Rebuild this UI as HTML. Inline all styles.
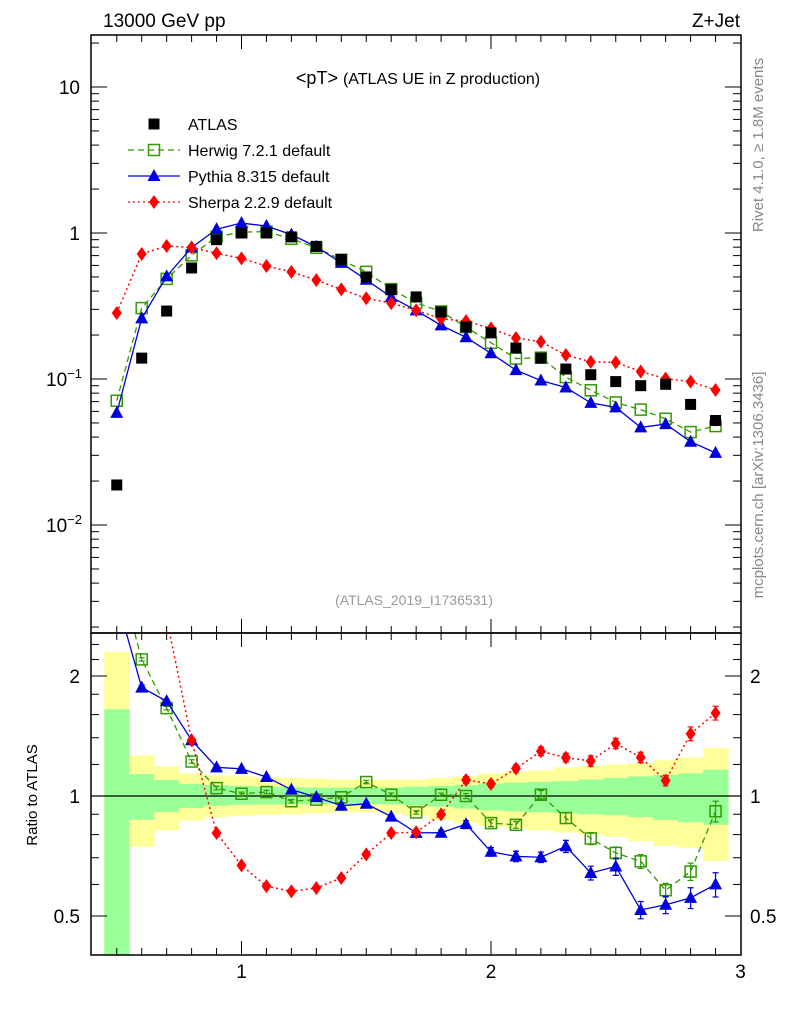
<!DOCTYPE html>
<html><head><meta charset="utf-8"><style>
body{margin:0;background:#fff}
svg{display:block;font-family:"Liberation Sans",sans-serif}
</style></head><body>
<svg id="c" width="786" height="1024" viewBox="0 0 786 1024">
<defs>
<clipPath id="cm"><rect x="91" y="35" width="650" height="598"/></clipPath>
<clipPath id="cr"><rect x="91" y="633" width="650" height="322"/></clipPath>
</defs>
<g id="bands" clip-path="url(#cr)"></g>
<g id="marks"></g>
<rect x="91" y="35" width="650" height="598" fill="none" stroke="#000" stroke-width="1.5"/>
<rect x="91" y="633" width="650" height="322" fill="none" stroke="#000" stroke-width="1.5"/>
<g id="axes"></g>
<text x="103" y="27" font-size="19">13000 GeV pp</text>
<text x="740" y="27" font-size="19" text-anchor="end">Z+Jet</text>
<text x="418" y="84" font-size="18" text-anchor="middle">&lt;pT&gt; <tspan font-size="16">(ATLAS UE in Z production)</tspan></text>
<text x="414" y="605" font-size="14" fill="#999" text-anchor="middle">(ATLAS_2019_I1736531)</text>
<text transform="translate(763,145) rotate(-90)" font-size="15" fill="#888" text-anchor="middle">Rivet 4.1.0, ≥ 1.8M events</text>
<text transform="translate(763,485) rotate(-90)" font-size="15" fill="#888" text-anchor="middle">mcplots.cern.ch [arXiv:1306.3436]</text>
<text transform="translate(37,795) rotate(-90)" font-size="15" text-anchor="middle">Ratio to ATLAS</text>
<g id="legend"></g>
</svg>
<script>
const xs=[0.5,0.6,0.7,0.8,0.9,1.0,1.1,1.2,1.3,1.4,1.5,1.6,1.7,1.8,1.9,2.0,2.1,2.2,2.3,2.4,2.5,2.6,2.7,2.8,2.9];
const atlas=[0.0188,0.139,0.292,0.576,0.90,1.00,1.00,0.94,0.81,0.66,0.50,0.41,0.365,0.288,0.227,0.207,0.163,0.139,0.117,0.107,0.096,0.090,0.092,0.067,0.052];
const herwig=[0.071,0.306,0.485,0.703,0.942,1.013,1.023,0.912,0.793,0.655,0.542,0.413,0.332,0.290,0.227,0.177,0.138,0.140,0.103,0.0837,0.0691,0.0617,0.0534,0.0433,0.0476];
const pythia=[0.0586,0.260,0.505,0.795,1.062,1.17,1.116,0.975,0.805,0.624,0.478,0.364,0.295,0.233,0.193,0.150,0.115,0.0976,0.0875,0.0686,0.0639,0.0466,0.0491,0.0372,0.0312];
const sherpa=[0.283,0.718,0.815,0.795,0.727,0.67,0.594,0.542,0.476,0.411,0.357,0.331,0.296,0.259,0.249,0.222,0.191,0.180,0.146,0.131,0.130,0.1125,0.1006,0.096,0.084];
const herwigErr=[0.01,0.01,0.01,0.01,0.01,0.01,0.01,0.01,0.01,0.01,0.01,0.01,0.01,0.01,0.015,0.02,0.02,0.025,0.03,0.035,0.035,0.04,0.04,0.05,0.06];
const pythiaErr=[0.01,0.015,0.01,0.01,0.01,0.01,0.01,0.01,0.01,0.01,0.01,0.01,0.01,0.015,0.02,0.025,0.03,0.03,0.035,0.04,0.05,0.05,0.05,0.06,0.07];
const sherpaErr=[0.01,0.01,0.01,0.01,0.01,0.01,0.01,0.01,0.01,0.01,0.01,0.01,0.01,0.01,0.02,0.02,0.02,0.025,0.025,0.03,0.03,0.03,0.03,0.04,0.04];
const yUp=[2.3,1.265,1.187,1.14,1.125,1.12,1.115,1.11,1.105,1.10,1.10,1.10,1.10,1.11,1.12,1.14,1.15,1.16,1.18,1.19,1.20,1.21,1.23,1.25,1.32];
const yDn=[0.3,0.746,0.82,0.867,0.885,0.892,0.897,0.90,0.905,0.91,0.91,0.905,0.89,0.87,0.855,0.84,0.83,0.82,0.81,0.80,0.79,0.77,0.75,0.74,0.687];
const gUp=[1.65,1.135,1.097,1.072,1.065,1.06,1.055,1.052,1.05,1.05,1.05,1.05,1.055,1.06,1.065,1.075,1.08,1.085,1.09,1.10,1.11,1.12,1.13,1.14,1.164];
const gDn=[0.3,0.872,0.912,0.933,0.945,0.95,0.952,0.953,0.955,0.955,0.955,0.953,0.948,0.94,0.93,0.92,0.915,0.91,0.905,0.9,0.895,0.885,0.87,0.86,0.847];
const xTicks=[1,2,3];
const ratioTicks=[0.5,1,2];

const NS="http://www.w3.org/2000/svg";
const X=v=>-8+249.5*v;
const Y=v=>233-146*Math.log10(v);
const R=v=>796-120*Math.log2(v);
function el(t,a,p){const e=document.createElementNS(NS,t);for(const k in a)e.setAttribute(k,a[k]);(p||document.getElementById('marks')).appendChild(e);return e;}
const axes=document.getElementById('axes');
// bands
const bands=document.getElementById('bands');
xs.forEach((x,i)=>{
  let r=el('rect',{x:X(x-0.05),y:R(yUp[i]),width:X(x+0.05)-X(x-0.05)+0.5,height:R(yDn[i])-R(yUp[i]),fill:'#ffff99'},bands);
  
  
  let g=el('rect',{x:X(x-0.05),y:R(gUp[i]),width:X(x+0.05)-X(x-0.05)+0.5,height:R(gDn[i])-R(gUp[i]),fill:'#99ff99'},bands);
  
  
});
let one=el('line',{x1:91,x2:741,y1:R(1),y2:R(1),stroke:'#000','stroke-width':1.3},bands);



function marker(type,cx,cy,color,p){
  let m;
  if(type==='sq') m=el('rect',{x:cx-5.5,y:cy-5.5,width:11,height:11,fill:'none',stroke:color,'stroke-width':1.5},p);
  else if(type==='fsq') m=el('rect',{x:cx-5.5,y:cy-5.5,width:11,height:11,fill:color},p);
  else if(type==='tri') m=el('polygon',{points:`${cx},${cy-7} ${cx-6.5},${cy+5} ${cx+6.5},${cy+5}`,fill:color},p);
  else m=el('polygon',{points:`${cx},${cy-7} ${cx-5},${cy} ${cx},${cy+7} ${cx+5},${cy}`,fill:color},p);
  return m;
}
const series=[
 {name:'herwig',vals:herwig,err:herwigErr,color:'#339900',dash:'6,4',w:1.3,m:'sq'},
 {name:'pythia',vals:pythia,err:pythiaErr,color:'#0000dd',dash:'',w:1.3,m:'tri'},
 {name:'sherpa',vals:sherpa,err:sherpaErr,color:'#ff0000',dash:'2,3',w:1.5,m:'dia'}];
const gm=el('g',{'clip-path':'url(#cm)'});


const gr=el('g',{'clip-path':'url(#cr)'});


series.forEach(s=>{
  let pl=el('polyline',{points:xs.map((x,i)=>X(x)+','+Y(s.vals[i])).join(' '),fill:'none',stroke:s.color,'stroke-width':s.w,'stroke-dasharray':s.dash},gm);
  
  
  xs.forEach((x,i)=>{const m=marker(s.m,X(x),Y(s.vals[i]),s.color,gm);
    
    });
  let rl=el('polyline',{points:xs.map((x,i)=>X(x)+','+R(s.vals[i]/atlas[i])).join(' '),fill:'none',stroke:s.color,'stroke-width':s.w,'stroke-dasharray':s.dash},gr);
  
  
  xs.forEach((x,i)=>{const r=s.vals[i]/atlas[i],cx=X(x);
    const e=el('path',{d:`M${cx},${R(r*(1+s.err[i]))}V${R(r*(1-s.err[i]))}M${cx-3},${R(r*(1+s.err[i]))}h6M${cx-3},${R(r*(1-s.err[i]))}h6`,stroke:s.color,'stroke-width':1.2,fill:'none'},gr);
    
    
    const m=marker(s.m,cx,R(r),s.color,gr);
    
    });
});
xs.forEach((x,i)=>{const m=marker('fsq',X(x),Y(atlas[i]),'#000',gm);
  
  });

// axes ticks
function tick(x1,y1,x2,y2){el('line',{x1,y1,x2,y2,stroke:'#000','stroke-width':1},axes);}
for(let v=0.5;v<=2.95;v+=0.1){const x=X(v),maj=Math.abs(v-Math.round(v))<0.01;
  const L=maj?14:7;
  tick(x,633,x,633-L);tick(x,35,x,35+L);tick(x,955,x,955-L);tick(x,633,x,633+L);}
xTicks.forEach(v=>{const t=el('text',{x:X(v),y:978,'font-size':19,'text-anchor':'middle'},axes);t.textContent=v;
  
  });
for(let d=-3;d<=1;d++)for(let k=1;k<10;k++){const v=k*Math.pow(10,d),y=Y(v);if(y<35||y>633)continue;
  const L=k===1?16:8;tick(91,y,91+L,y);tick(741,y,741-L,y);}
const mLabels=[['10',null,10],['10','−1',0.1],['10','−2',0.01],['1',null,1]];
mLabels.forEach(([b,e,v])=>{const t=el('text',{x:e?73:80,y:Y(v)+7,'font-size':19,'text-anchor':'end'},axes);t.textContent=b;
  if(e){const s=el('tspan',{dy:-8,'font-size':13},t);s.textContent=e;t.setAttribute('x',64);t.setAttribute('text-anchor','start');t.setAttribute('x',e?46:60);}
  
  });
[0.5,0.6,0.7,0.8,0.9,1,1.2,1.4,1.6,1.8,2,2.2,2.4].forEach(v=>{const y=R(v);if(y<633||y>955)return;
  const L=ratioTicks.includes(v)?16:8;tick(91,y,91+L,y);tick(741,y,741-L,y);});
ratioTicks.forEach(v=>{const y=R(v)+7;
  const a=el('text',{x:80,y,'font-size':19,'text-anchor':'end'},axes);a.textContent=v;
  
  
  const b=el('text',{x:750,y,'font-size':19},axes);b.textContent=v;
  
  });

// legend
const lg=document.getElementById('legend');
const entries=[['ATLAS','fsq','#000',''],['Herwig 7.2.1 default','sq','#339900','6,4'],['Pythia 8.315 default','tri','#0000dd',''],['Sherpa 2.2.9 default','dia','#ff0000','2,3']];
entries.forEach((e,i)=>{const y=124+i*26;
  if(i>0){const l=el('line',{x1:128,x2:180,y1:y,y2:y,stroke:e[2],'stroke-width':1.3,'stroke-dasharray':e[3]},lg);
    
    }
  const m=marker(e[1],154,y,e[2],lg);
  
  
  const t=el('text',{x:188,y:y+6,'font-size':16},lg);t.textContent=e[0];
  
  });
</script>
</body></html>
